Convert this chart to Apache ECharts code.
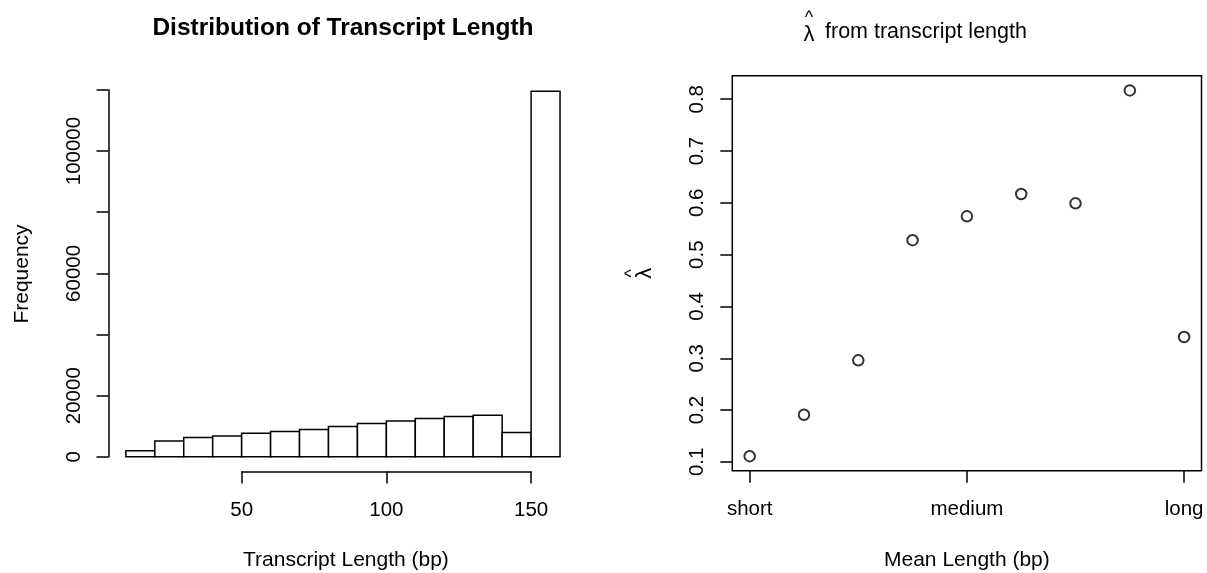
<!DOCTYPE html>
<html><head><meta charset="utf-8">
<script src="https://cdn.jsdelivr.net/npm/echarts@6.0.0/dist/echarts.min.js"></script>
<style>html,body{margin:0;padding:0;background:#fff}#c{width:1207px;height:573px}</style>
</head><body><div id="c"></div>
<script>
// ---- data ----
const binEdges = [10, 20, 30, 40, 50, 60, 70, 80, 90, 100, 110, 120, 130, 140, 150, 160];
const binCounts = [2000, 5150, 6350, 6800, 7750, 8300, 8950, 9950, 10900, 11700, 12550, 13200, 13650, 7950, 119600];
const histXTicks = [50, 100, 150];
const histYTicks = [0, 20000, 40000, 60000, 80000, 100000, 120000];
const histYLabelled = [0, 20000, 60000, 100000];
const lengthPos = [1, 2, 3, 4, 5, 6, 7, 8, 9];
const lambdaHat = [0.111, 0.191, 0.296, 0.528, 0.574, 0.617, 0.599, 0.817, 0.341];
const lengthTickPos = [1, 5, 9];
const lengthTickLabels = ['short', 'medium', 'long'];
const lambdaYTicks = [0.1, 0.2, 0.3, 0.4, 0.5, 0.6, 0.7, 0.8];

// ---- layout ----
const W = 1207, H = 573;
const FONT = '"Liberation Sans", Arial, Helvetica, sans-serif';
const LW = 1.5;
const P1 = {L: 108.5, R: 577.4, T: 76.5, B: 471.5};
const P2 = {L: 732.3, R: 1201.5, T: 75.8, B: 470.8};
function ext(a, b) { const d = b - a; return [a - 0.04 * d, b + 0.04 * d]; }
function px(v, lim, a, b) { return a + (v - lim[0]) / (lim[1] - lim[0]) * (b - a); }

const hx = ext(binEdges[0], binEdges[binEdges.length - 1]);
const hy = ext(0, Math.max(...binCounts));
const sx = ext(Math.min(...lengthPos), Math.max(...lengthPos));
const sy = ext(Math.min(...lambdaHat), Math.max(...lambdaHat));

function gridBox(L, R, T, B) { return {left: L, top: T, width: R - L, height: B - T, containLabel: false}; }

const blk = {color: '#000', width: LW};
const tickAxis = (extra) => Object.assign({
  axisLine: {show: true, onZero: false, lineStyle: blk},
  axisTick: {show: true, inside: false, length: 12, lineStyle: blk},
  splitLine: {show: false},
}, extra);
const hidden = (extra) => Object.assign({show: false, axisLine: {onZero: false}, splitLine: {show: false}}, extra);

// histogram tick grids
const hxTickL = px(histXTicks[0], hx, P1.L, P1.R), hxTickR = px(histXTicks[histXTicks.length - 1], hx, P1.L, P1.R);
const hyTickB = px(histYTicks[0], hy, P1.B, P1.T), hyTickT = px(histYTicks[histYTicks.length - 1], hy, P1.B, P1.T);
// scatter tick grids
const sxTickL = px(lengthTickPos[0], sx, P2.L, P2.R), sxTickR = px(lengthTickPos[lengthTickPos.length - 1], sx, P2.L, P2.R);
const syTickB = px(lambdaYTicks[0], sy, P2.B, P2.T), syTickT = px(lambdaYTicks[lambdaYTicks.length - 1], sy, P2.B, P2.T);

const labelStyle = {color: '#000', fontSize: 20.5, fontFamily: FONT};

const option = {
  backgroundColor: '#fff',
  animation: false,
  grid: [
    gridBox(P1.L, P1.R, P1.T, P1.B),                 // 0 hist data
    gridBox(hxTickL, hxTickR, P1.T, P1.B),           // 1 hist x axis
    gridBox(P1.L, P1.R, hyTickT, hyTickB),           // 2 hist y axis
    Object.assign(gridBox(P2.L, P2.R, P2.T, P2.B), {show: true, borderColor: '#000', borderWidth: LW, backgroundColor: 'transparent'}), // 3 scatter data
    gridBox(sxTickL, sxTickR, P2.T, P2.B),           // 4 scatter x axis
    gridBox(P2.L, P2.R, syTickT, syTickB)            // 5 scatter y axis
  ],
  xAxis: [
    hidden({gridIndex: 0, type: 'value', min: hx[0], max: hx[1]}),
    tickAxis({gridIndex: 1, type: 'value', position: 'bottom', min: histXTicks[0], max: histXTicks[histXTicks.length - 1], interval: histXTicks[1] - histXTicks[0],
      axisLabel: Object.assign({margin: 28, showMinLabel: true, showMaxLabel: true}, labelStyle)}),
    hidden({gridIndex: 2, type: 'value', min: hx[0], max: hx[1]}),
    hidden({gridIndex: 3, type: 'value', min: sx[0], max: sx[1]}),
    tickAxis({gridIndex: 4, type: 'value', position: 'bottom', min: lengthTickPos[0], max: lengthTickPos[lengthTickPos.length - 1], interval: lengthTickPos[1] - lengthTickPos[0],
      axisLine: {show: false, onZero: false},
      axisLabel: Object.assign({margin: 28, showMinLabel: true, showMaxLabel: true,
        formatter: v => { const i = lengthTickPos.indexOf(v); return i >= 0 ? lengthTickLabels[i] : ''; }}, labelStyle)}),
    hidden({gridIndex: 5, type: 'value', min: sx[0], max: sx[1]})
  ],
  yAxis: [
    hidden({gridIndex: 0, type: 'value', min: hy[0], max: hy[1]}),
    hidden({gridIndex: 1, type: 'value', min: hy[0], max: hy[1]}),
    tickAxis({gridIndex: 2, type: 'value', position: 'left', min: histYTicks[0], max: histYTicks[histYTicks.length - 1], interval: histYTicks[1] - histYTicks[0],
      axisLabel: Object.assign({margin: 24, rotate: 90, showMinLabel: true, showMaxLabel: true,
        formatter: v => histYLabelled.includes(v) ? String(v) : ''}, labelStyle)}),
    hidden({gridIndex: 3, type: 'value', min: sy[0], max: sy[1]}),
    hidden({gridIndex: 4, type: 'value', min: sy[0], max: sy[1]}),
    tickAxis({gridIndex: 5, type: 'value', position: 'left', min: lambdaYTicks[0], max: lambdaYTicks[lambdaYTicks.length - 1], interval: 0.1,
      axisLine: {show: false, onZero: false},
      axisLabel: Object.assign({margin: 24, rotate: 90, showMinLabel: true, showMaxLabel: true,
        formatter: v => v.toFixed(1)}, labelStyle)})
  ],
  series: [
    {
      type: 'custom', xAxisIndex: 0, yAxisIndex: 0,
      data: binCounts.map((c, i) => [binEdges[i], binEdges[i + 1], c]),
      encode: {x: [0, 1], y: 2},
      renderItem: (params, api) => {
        const p0 = api.coord([api.value(0), api.value(2)]);
        const p1 = api.coord([api.value(1), 0]);
        return {type: 'rect', shape: {x: p0[0], y: p0[1], width: p1[0] - p0[0], height: p1[1] - p0[1]},
          style: {fill: '#fff', stroke: '#000', lineWidth: LW}};
      }
    },
    {
      type: 'scatter', xAxisIndex: 3, yAxisIndex: 3,
      data: lengthPos.map((x, i) => [x, lambdaHat[i]]),
      symbol: 'emptyCircle', symbolSize: 10.5,
      itemStyle: {color: '#000', borderColor: '#000', borderWidth: 1.3}
    }
  ],
  graphic: [
    {type: 'text', x: (P1.L + P1.R) / 2, y: 28, style: {text: 'Distribution of Transcript Length', fontSize: 24.5, fontWeight: 'bold', fontFamily: FONT, fill: '#000', align: 'center', verticalAlign: 'middle'}},
    {type: 'text', x: (P1.L + P1.R) / 2 + 3, y: 560, style: {text: 'Transcript Length (bp)', fontSize: 21, fontFamily: FONT, fill: '#000', align: 'center', verticalAlign: 'middle'}},
    {type: 'text', x: 22, y: (P1.T + P1.B) / 2, rotation: Math.PI / 2, style: {text: 'Frequency', fontSize: 21, fontFamily: FONT, fill: '#000', align: 'center', verticalAlign: 'middle'}},
    // right title: lambda-hat + text
    {type: 'text', x: 809, y: 35, style: {text: 'λ', fontSize: 22, fontFamily: FONT, fill: '#000', align: 'center', verticalAlign: 'middle'}},
    {type: 'text', x: 809, y: 18, style: {text: '^', fontSize: 18, fontFamily: FONT, fill: '#000', align: 'center', verticalAlign: 'middle'}},
    {type: 'text', x: 825, y: 32, style: {text: 'from transcript length', fontSize: 21.5, fontFamily: FONT, fill: '#000', align: 'left', verticalAlign: 'middle'}},
    {type: 'text', x: (P2.L + P2.R) / 2, y: 560, style: {text: 'Mean Length (bp)', fontSize: 21, fontFamily: FONT, fill: '#000', align: 'center', verticalAlign: 'middle'}},
    // y label lambda-hat (rotated)
    {type: 'group', x: 645, y: (P2.T + P2.B) / 2, rotation: Math.PI / 2, children: [
      {type: 'text', x: 0, y: 0, style: {text: 'λ', fontSize: 22, fontFamily: FONT, fill: '#000', align: 'center', verticalAlign: 'middle'}},
      {type: 'text', x: 0, y: -13, style: {text: '^', fontSize: 18, fontFamily: FONT, fill: '#000', align: 'center', verticalAlign: 'middle'}}
    ]}
  ]
};
const chart = echarts.init(document.getElementById('c'), null, {renderer: 'canvas', width: W, height: H});
chart.setOption(option);
</script>
</body></html>
